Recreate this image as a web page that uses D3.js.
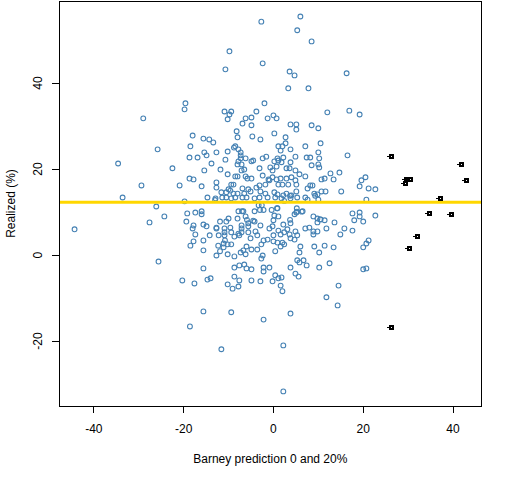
<!DOCTYPE html>
<html>
<head>
<meta charset="utf-8">
<script src="https://cdn.jsdelivr.net/npm/d3@7"></script>
<style>
  body { margin: 0; background: #fff; }
  text { font-family: "Liberation Sans", Arial, sans-serif; font-size: 12px; fill: #000; }
</style>
</head>
<body>
<svg id="chart" width="512" height="480"></svg>
<script>
'use strict';

// predicted vs realized return (%), every other stock
const otherStocks = [
  [-9.8,47.4],[-10.7,43.2],[-29.0,31.8],[-34.6,21.3],[-25.8,24.6],[-29.4,16.2],[-33.6,13.4],[-26.1,11.3],[-27.6,7.6],[-44.3,6.0],
  [6.0,55.5],[-2.7,54.3],[5.3,52.3],[8.5,49.7],[-2.4,44.6],[3.6,42.7],[4.7,41.8],[16.3,42.3],
  [-25.6,-1.5],[-18.6,-16.6],[-11.6,-21.9],[2.2,-21.0],[2.2,-31.7],
  // upper left
  [-19.6,35.3],[-19.8,33.9],[-2.0,35.3],[-10.9,33.4],[-9.4,33.4],[-9.8,32.7],[-3.8,33.4],[-10.2,31.6],[-6.2,31.8],[-4.9,32.0],
  [-1.3,31.8],[-6.9,30.6],[-4.9,30.2],[-8.2,28.8],[-18.0,27.8],[-15.6,27.1],[-14.3,26.9],[-13.4,26.2],[-8.0,27.4],[-4.7,27.6],
  [-2.9,26.9],[-18.5,25.3],[-8.8,25.0],[-8.5,25.3],[-7.8,24.6],[-10.2,24.1],[-15.4,23.9],[-14.9,23.2],[-12.7,23.9],[-7.3,23.9],
  [-7.3,23.2],[-7.3,22.5],[-18.7,22.7],[-16.9,22.7],[-10.7,22.2],[-6.2,22.5],[-4.9,21.8],[-4.5,22.0],[-2.4,22.5],[-1.6,22.9],
  [-7.8,21.8],[-8.0,21.1],[-7.1,21.1],[-22.5,20.2],[-13.8,21.3],[-11.8,19.9],[-15.4,19.7],[-7.1,19.7],[-6.5,19.9],[-3.1,20.2],
  [-0.7,20.4],[-10.2,18.8],[-8.5,18.3],[-8.0,18.3],[-6.2,18.3],[-5.8,17.8],[-4.9,17.8],[-2.4,18.5],[-1.1,17.6],[-18.7,17.8],
  [-17.8,17.6],[-12.7,16.9],[-20.9,16.2],[-16.0,16.0],[-12.7,15.7],[-9.4,16.4],[-8.9,16.4],[-6.9,15.5],[-5.6,15.3],[-3.8,15.7],
  [-3.1,16.2],[-1.8,16.4],[-0.9,17.4],[-10.0,15.3],[-9.6,15.0],[-10.5,14.6],[-11.6,14.6],[-8.9,14.3],[-8.0,14.3],[-6.5,14.3],
  [-5.1,14.8],[-2.9,14.8],[-1.8,14.3],[-14.7,13.4],[-12.9,13.2],[-11.4,13.4],[-10.5,13.4],[-9.4,13.2],[-8.5,13.4],[-6.9,13.4],
  [-6.0,13.4],[-4.2,13.2],[-3.1,13.4],[-1.3,13.4],[-19.8,12.5],
  // upper right
  [3.3,38.8],[7.8,38.8],[12.0,33.2],[16.9,33.6],[19.2,32.7],[0.0,32.5],[0.7,31.8],[3.8,30.4],[5.1,30.4],[5.1,29.2],
  [8.5,30.2],[10.0,29.5],[0.2,28.3],[2.7,27.4],[2.7,26.0],[1.1,25.3],[2.0,25.3],[1.6,24.3],[3.8,24.6],[7.1,25.3],
  [10.5,26.0],[10.0,23.9],[16.5,23.2],[2.2,22.7],[0.9,22.5],[0.2,21.8],[1.1,22.0],[1.8,21.6],[4.9,22.9],[3.8,21.6],
  [7.4,22.7],[8.2,22.7],[10.2,22.5],[8.5,20.9],[10.0,21.1],[10.2,20.4],[0.7,20.6],[2.9,20.2],[3.6,20.2],[-0.2,19.7],
  [4.9,19.7],[5.8,18.8],[7.1,18.3],[12.7,19.0],[14.7,19.2],[10.7,17.6],[11.4,17.8],[13.4,17.6],[19.6,17.4],[20.5,18.1],
  [-0.2,18.1],[0.7,17.6],[1.6,17.8],[2.9,17.8],[4.0,18.1],[4.9,17.4],[1.1,16.4],[2.0,16.4],[3.3,16.4],[5.1,16.4],
  [8.2,16.2],[8.7,16.2],[7.6,15.5],[19.2,16.0],[21.2,15.5],[22.7,15.3],[15.1,14.8],[10.7,14.8],[11.6,14.8],[9.1,14.3],
  [9.8,14.1],[0.2,14.6],[0.9,14.1],[2.2,13.9],[2.9,14.3],[4.0,13.9],[5.1,14.8],[0.4,13.4],[1.8,13.2],[3.8,13.2],
  [5.3,13.4],[7.1,13.4],[7.6,12.9],[10.0,12.9],[20.7,12.9],[3.7,13.8],[9.3,13.8],[2.4,12.6],[-13.0,12.8],
  // around the mean line
  [-3.3,11.6],[-2.6,11.6],[-0.4,10.5],[0.8,10.9],[5.2,10.9],[5.2,10.1],[6.3,10.1],[-3.0,10.5],[-2.2,10.5],[-7.0,10.2],
  // lower left
  [-24.3,9.0],[-19.2,9.7],[-17.4,9.9],[-16.0,10.2],[-16.0,9.5],[-19.4,7.8],[-17.8,6.9],[-18.0,6.2],[-17.4,4.8],[-17.8,3.2],
  [-18.5,2.2],[-15.6,7.1],[-14.9,6.7],[-12.7,6.4],[-12.7,6.2],[-11.9,7.8],[-10.5,7.8],[-10.0,8.5],[-8.0,8.5],[-7.8,10.2],
  [-6.7,10.2],[-6.2,9.0],[-4.2,10.2],[-4.2,7.8],[-5.6,7.4],[-5.6,6.7],[-7.1,6.9],[-7.1,6.2],[-9.6,6.4],[-10.9,6.2],
  [-10.9,5.3],[-9.4,5.3],[-7.8,5.0],[-7.1,5.3],[-5.6,5.3],[-4.0,5.5],[-3.6,4.6],[-2.9,6.9],[-0.9,6.2],[-14.2,4.6],
  [-12.2,4.6],[-10.9,4.6],[-8.7,4.3],[-7.6,4.6],[-5.1,3.9],[-10.8,3.4],[-15.6,3.4],[-11.1,2.7],[-12.3,2.2],[-10.2,2.5],
  [-9.4,2.5],[-11.1,1.8],[-11.9,0.9],[-10.2,0.2],[-12.7,-0.1],[-8.7,-0.3],[-7.3,0.6],[-6.7,1.1],[-6.2,0.2],[-6.0,2.0],
  [-4.9,1.3],[-3.6,1.3],[-2.7,2.5],[-2.2,3.4],[-1.3,3.6],[-2.4,-0.1],[-2.7,-0.8],[-15.6,1.1],[-15.6,-3.1],[-8.7,-2.9],
  [-7.6,-2.4],[-6.5,-2.2],[-6.0,-3.1],[-4.9,-3.3],[-2.2,-2.9],[-0.9,-2.9],[-2.2,-3.8],[-20.3,-5.9],[-17.6,-6.6],[-14.7,-5.7],
  [-14.0,-5.4],[-8.7,-5.0],[-7.6,-5.9],[-4.9,-5.9],[-2.9,-6.1],[-10.2,-6.8],[-9.1,-7.8],[-7.8,-7.3],[-15.6,-13.1],[-9.4,-13.3],
  [-2.2,-15.0],[-5.9,8.2],[-4.5,8.0],[0.0,8.1],[3.7,8.2],[10.4,8.3],
  // lower right
  [0.9,10.9],[0.2,9.2],[1.1,9.0],[4.7,9.5],[5.1,9.9],[6.5,10.2],[8.9,9.0],[9.8,8.5],[10.5,8.3],[11.4,8.1],
  [9.8,7.6],[13.6,7.6],[17.6,9.7],[19.2,9.9],[19.2,9.0],[18.0,8.1],[20.0,7.8],[22.7,9.2],[2.2,7.1],[3.8,7.4],
  [-0.2,6.7],[1.1,5.7],[3.1,6.0],[7.1,6.2],[8.0,6.4],[8.9,5.5],[9.8,5.5],[8.9,4.8],[11.8,6.2],[15.8,6.2],
  [17.6,5.7],[14.9,4.8],[0.0,4.6],[1.6,4.8],[2.4,5.3],[3.6,4.8],[4.9,5.5],[5.3,4.6],[3.8,3.9],[4.7,3.6],
  [0.0,3.2],[0.9,2.9],[2.0,2.9],[2.4,2.5],[1.6,2.0],[0.4,0.9],[6.0,2.0],[5.8,0.6],[9.1,2.0],[11.4,2.2],
  [13.4,1.8],[10.2,0.6],[20.0,1.8],[20.7,2.7],[21.2,3.4],[5.3,-1.2],[5.8,-1.7],[6.7,-1.2],[7.4,-2.4],[12.5,-1.9],
  [3.8,-2.9],[10.2,-2.9],[20.0,-3.3],[20.7,-3.1],[-0.2,-6.1],[0.4,-4.7],[1.1,-5.4],[1.8,-5.2],[4.9,-4.3],[5.6,-5.0],
  [1.6,-7.1],[2.0,-8.4],[14.5,-7.1],[11.8,-9.8],[14.3,-11.7],[3.8,-13.6]
];

// stocks Barney rates highest
const topPicks = [
  [26.1,23.0],[41.7,21.1],[29.6,17.8],[30.5,17.6],[29.2,16.7],[43.0,17.4],
  [37.2,13.2],[34.7,9.9],[39.6,9.5],[31.9,4.4],[30.1,1.6],[26.2,-16.8]
];

const meanRealized = 12.3;
const xTicks = [-40, -20, 0, 20, 40];
const yTicks = [-20, 0, 20, 40];

const svg = d3.select('#chart');
const plot = {left: 59.3, right: 481.3, top: 1, bottom: 406};

const x = d3.scaleLinear().domain([-47.7, 46.3]).range([plot.left, plot.right]);
const y = d3.scaleLinear().domain([-35.1, 59.1]).range([plot.bottom, plot.top]);

// points first, then the mean line goes on top of them
svg.append('g')
  .selectAll('circle')
  .data(otherStocks)
  .enter().append('circle')
  .attr('cx', d => x(d[0]))
  .attr('cy', d => y(d[1]))
  .attr('r', 2.4)
  .style('fill', 'none')
  .style('stroke', '#4682B4')
  .style('stroke-width', 1.1);

svg.append('line')
  .attr('x1', plot.left)
  .attr('x2', plot.right)
  .attr('y1', y(meanRealized))
  .attr('y2', y(meanRealized))
  .style('stroke', '#FFD700')
  .style('stroke-width', 3);

var picks = svg.append('g')
  .style('shape-rendering', 'crispEdges')
  .selectAll('g')
  .data(topPicks)
  .enter().append('g')
  .attr('transform', d => 'translate(' + Math.round(x(d[0])) + ',' + Math.round(y(d[1])) + ')');
picks.append('rect')
  .attr('x', -2).attr('y', -2)
  .attr('width', 5).attr('height', 5)
  .style('fill', '#000');
picks.append('rect')
  .attr('x', 0).attr('y', 0)
  .attr('width', 1).attr('height', 1)
  .style('fill', '#fff');
picks.append('rect')
  .attr('x', -4).attr('y', 0)
  .attr('width', 2).attr('height', 1)
  .style('fill', '#000');

// box and axes, R style
svg.append('rect')
  .attr('x', plot.left)
  .attr('y', plot.top)
  .attr('width', plot.right - plot.left)
  .attr('height', plot.bottom - plot.top)
  .style('fill', 'none')
  .style('stroke', '#000')
  .style('stroke-width', 1)
  .style('shape-rendering', 'crispEdges');

var xAxis = svg.append('g');
xAxis.selectAll('line')
  .data(xTicks)
  .enter().append('line')
  .attr('x1', d => x(d)).attr('x2', d => x(d))
  .attr('y1', plot.bottom).attr('y2', plot.bottom + 7)
  .style('stroke', '#000')
  .style('shape-rendering', 'crispEdges');
xAxis.selectAll('text')
  .data(xTicks)
  .enter().append('text')
  .attr('x', d => x(d))
  .attr('y', 433)
  .attr('text-anchor', 'middle')
  .text(d => d);

var yAxis = svg.append('g');
yAxis.selectAll('line')
  .data(yTicks)
  .enter().append('line')
  .attr('x1', plot.left - 7).attr('x2', plot.left)
  .attr('y1', d => y(d)).attr('y2', d => y(d))
  .style('stroke', '#000')
  .style('shape-rendering', 'crispEdges');
yAxis.selectAll('text')
  .data(yTicks)
  .enter().append('text')
  .attr('transform', d => 'translate(42,' + y(d) + ')rotate(-90)')
  .attr('text-anchor', 'middle')
  .text(d => d);

svg.append('text')
  .attr('x', (plot.left + plot.right) / 2)
  .attr('y', 463)
  .attr('text-anchor', 'middle')
  .text('Barney prediction 0 and 20%');

svg.append('text')
  .attr('transform', 'translate(15,' + (plot.top + plot.bottom) / 2 + ')rotate(-90)')
  .attr('text-anchor', 'middle')
  .text('Realized (%)');
</script>
</body>
</html>
